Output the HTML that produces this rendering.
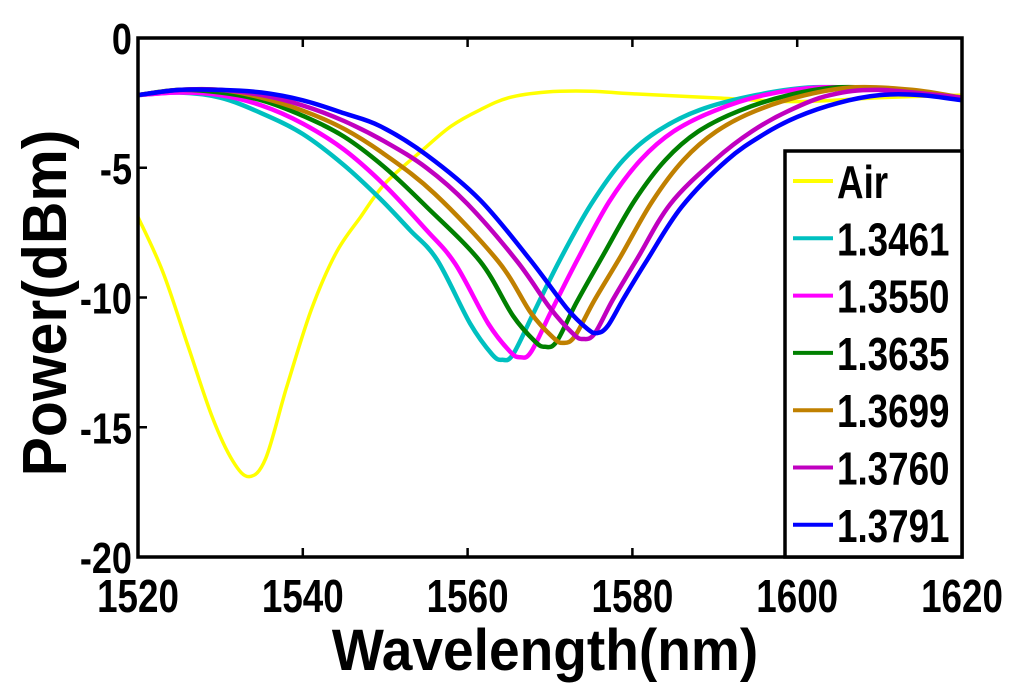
<!DOCTYPE html>
<html><head><meta charset="utf-8"><style>
html,body{margin:0;padding:0;background:#fff;}
svg{display:block;}
text{font-family:"Liberation Sans",Arial,sans-serif;font-weight:bold;fill:#000;}
</style></head><body>
<svg id="chart" width="1024" height="695" viewBox="0 0 1024 695">
<g id="series-layer"></g>
<rect x="138" y="38" width="824" height="519" fill="none" stroke="#000" stroke-width="3.5"/>
<g id="axis-layer"></g>
<g>
<rect x="785" y="151" width="177" height="406" fill="#fff" stroke="#000" stroke-width="3.5"/>
<g id="legend-entries"></g>
</g>
<text x="0" y="0" text-anchor="middle" font-size="58" transform="translate(545 670) scale(0.95 1)">Wavelength(nm)</text>
<text x="0" y="0" text-anchor="middle" font-size="62" transform="translate(66 303) rotate(-90) scale(0.95 1)">Power(dBm)</text>
</svg>
<script>
const xTicks = [1520, 1540, 1560, 1580, 1600, 1620];
const yTicks = [0, -5, -10, -15, -20];
const seriesNames = ["Air", "1.3461", "1.3550", "1.3635", "1.3699", "1.3760", "1.3791"];
const seriesColors = ["#ffff00", "#00c0c0", "#ff00ff", "#008000", "#c08000", "#c000c0", "#0000ff"];
const xAir = [1520,1523,1526,1529,1531.5,1533.5,1535.5,1538,1541,1544,1547,1550,1554.6,1558,1561.5,1565,1569.6,1575,1580,1589.8,1600,1610,1620];
const yAir = [-6.9,-9.0,-11.8,-14.6,-16.3,-16.9,-16.2,-13.5,-10.5,-8.3,-6.9,-5.6,-4.3,-3.4,-2.77,-2.3,-2.08,-2.05,-2.15,-2.3,-2.45,-2.3,-2.2];
const x13461 = [1520,1525,1530,1535,1540,1545,1549.4,1553,1556.3,1560.3,1563,1564.2,1565.5,1568,1571.2,1575,1578.9,1583,1588.2,1595,1602,1610,1615,1620];
const y13461 = [-2.2,-2.1,-2.3,-2.9,-3.7,-4.9,-6.2,-7.4,-8.55,-11.0,-12.2,-12.4,-12.2,-10.6,-8.55,-6.4,-4.7,-3.6,-2.77,-2.2,-1.9,-2.0,-2.1,-2.3];
const x13550 = [1520,1525,1530,1535,1540,1545,1550,1555,1558.5,1562.5,1565.2,1566.4,1567.7,1570.2,1573.4,1577.2,1581,1585,1590,1596,1603,1610,1620];
const y13550 = [-2.2,-2.1,-2.2,-2.6,-3.3,-4.3,-5.7,-7.4,-8.7,-11.0,-12.1,-12.3,-12.1,-10.5,-8.5,-6.3,-4.7,-3.6,-2.8,-2.2,-1.9,-2.0,-2.3];
const x13635 = [1520,1525,1530,1535,1540,1545,1550,1555,1561.5,1565.5,1568.2,1569.4,1570.8,1573.2,1576.4,1580.2,1584,1588,1593,1599,1605,1612,1620];
const y13635 = [-2.2,-2.0,-2.1,-2.4,-3.0,-3.8,-5.0,-6.5,-8.6,-10.7,-11.7,-11.9,-11.7,-10.2,-8.4,-6.3,-4.7,-3.6,-2.8,-2.2,-1.9,-2.0,-2.3];
const x13699 = [1520,1525,1530,1535,1540,1545,1550,1556,1563.7,1567.7,1570.4,1571.6,1573,1575.4,1578.6,1582.4,1586.2,1590.2,1595,1601,1607,1614,1620];
const y13699 = [-2.2,-2.0,-2.0,-2.3,-2.8,-3.5,-4.5,-6.0,-8.6,-10.6,-11.55,-11.75,-11.5,-10.1,-8.4,-6.3,-4.7,-3.6,-2.8,-2.2,-1.9,-2.0,-2.3];
const x13760 = [1520,1525,1530,1535,1540,1545,1550,1555,1560,1566,1570,1572.8,1574,1575.4,1577.6,1580.6,1584.6,1590,1594.5,1599,1604,1610,1620];
const y13760 = [-2.2,-2.0,-2.0,-2.2,-2.6,-3.2,-4.0,-5.0,-6.4,-8.6,-10.4,-11.4,-11.6,-11.4,-10.1,-8.5,-6.4,-4.7,-3.6,-2.8,-2.2,-2.0,-2.3];
const x13791 = [1520,1525,1530,1535,1540,1545,1549.4,1555,1561.5,1567.6,1572,1574.5,1575.7,1577,1579,1581.8,1586,1591.5,1596,1600,1605,1610,1615,1620];
const y13791 = [-2.2,-2.0,-2.0,-2.1,-2.4,-2.9,-3.4,-4.5,-6.24,-8.55,-10.4,-11.2,-11.37,-11.1,-10.0,-8.55,-6.5,-4.7,-3.7,-3.04,-2.5,-2.2,-2.2,-2.4];

const NS = "http://www.w3.org/2000/svg";
const X0 = 138, X1 = 962, Y0 = 38, Y1 = 557;
function sx(v){ return X0 + (v - 1520) / 100 * (X1 - X0); }
function sy(v){ return Y0 + (0 - v) / 20 * (Y1 - Y0); }
function smooth(pts){
  let d = "M" + pts[0][0].toFixed(1) + "," + pts[0][1].toFixed(1);
  for (let i = 0; i < pts.length - 1; i++){
    const p0 = pts[Math.max(0,i-1)], p1 = pts[i], p2 = pts[i+1], p3 = pts[Math.min(pts.length-1,i+2)];
    const c1x = p1[0] + (p2[0]-p0[0])/6, c1y = p1[1] + (p2[1]-p0[1])/6;
    const c2x = p2[0] - (p3[0]-p1[0])/6, c2y = p2[1] - (p3[1]-p1[1])/6;
    d += " C" + c1x.toFixed(1) + "," + c1y.toFixed(1) + " " + c2x.toFixed(1) + "," + c2y.toFixed(1) + " " + p2[0].toFixed(1) + "," + p2[1].toFixed(1);
  }
  return d;
}
const xs = [xAir, x13461, x13550, x13635, x13699, x13760, x13791];
const ys = [yAir, y13461, y13550, y13635, y13699, y13760, y13791];
const slayer = document.getElementById("series-layer");
for (let s = 0; s < xs.length; s++){
  const pts = xs[s].map((v, i) => [sx(v), sy(ys[s][i])]);
  const p = document.createElementNS(NS, "path");
  p.setAttribute("d", smooth(pts));
  p.setAttribute("fill", "none");
  p.setAttribute("stroke", seriesColors[s]);
  p.setAttribute("stroke-width", s === 0 ? "3.5" : "4.5");
  p.setAttribute("stroke-linejoin", "round");
  
  
  slayer.appendChild(p);
}
const alayer = document.getElementById("axis-layer");
xTicks.forEach(t => {
  const x = sx(t);
  if (t > 1520 && t < 1620){
    [[Y1, Y1-9],[Y0, Y0+9]].forEach(([a,b]) => {
      const l = document.createElementNS(NS, "line");
      l.setAttribute("x1", x); l.setAttribute("x2", x); l.setAttribute("y1", a); l.setAttribute("y2", b);
      l.setAttribute("stroke", "#000"); l.setAttribute("stroke-width", "2.5");
      
      
      alayer.appendChild(l);
    });
  }
  const tx = document.createElementNS(NS, "text");
  tx.setAttribute("x", 0); tx.setAttribute("y", 0);
  tx.setAttribute("text-anchor", "middle");
  tx.setAttribute("font-size", "46");
  tx.setAttribute("transform", "translate(" + x + " 612) scale(0.8 1)");
  tx.textContent = String(t);
  
  
  alayer.appendChild(tx);
});
yTicks.forEach(t => {
  const y = sy(t);
  if (t < 0 && t > -20){
    [[X0, X0+9],[X1, X1-9]].forEach(([a,b]) => {
      const l = document.createElementNS(NS, "line");
      l.setAttribute("x1", a); l.setAttribute("x2", b); l.setAttribute("y1", y); l.setAttribute("y2", y);
      l.setAttribute("stroke", "#000"); l.setAttribute("stroke-width", "2.5");
      
      
      alayer.appendChild(l);
    });
  }
  const tx = document.createElementNS(NS, "text");
  tx.setAttribute("x", 0); tx.setAttribute("y", 0);
  tx.setAttribute("text-anchor", "end");
  tx.setAttribute("font-size", "44");
  tx.setAttribute("transform", "translate(132 " + (y + 16) + ") scale(0.82 1)");
  tx.textContent = String(t);
  
  
  alayer.appendChild(tx);
});
const lg = document.getElementById("legend-entries");
seriesNames.forEach((n, i) => {
  const y = 181 + i * 57.3;
  const l = document.createElementNS(NS, "line");
  l.setAttribute("x1", 793); l.setAttribute("x2", 833); l.setAttribute("y1", y); l.setAttribute("y2", y);
  l.setAttribute("stroke", seriesColors[i]); l.setAttribute("stroke-width", "4");
  
  
  lg.appendChild(l);
  const tx = document.createElementNS(NS, "text");
  tx.setAttribute("x", 0); tx.setAttribute("y", 0);
  tx.setAttribute("font-size", "46");
  tx.setAttribute("transform", "translate(837 " + (y + 17) + ") scale(0.8 1)");
  tx.textContent = n;
  
  
  lg.appendChild(tx);
});
</script>
</body></html>
